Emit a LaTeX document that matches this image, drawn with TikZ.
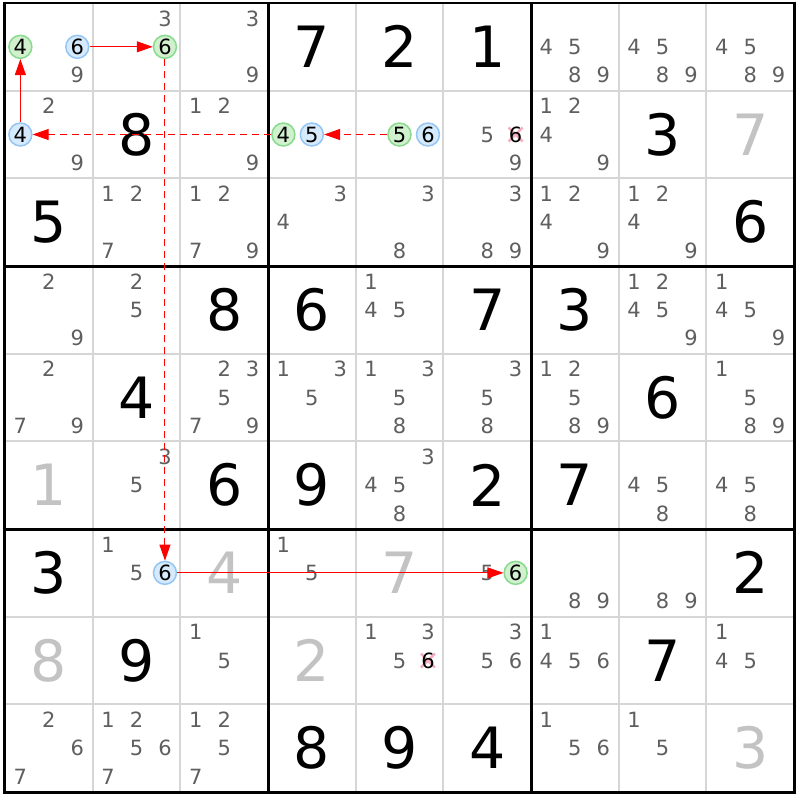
\documentclass[tikz,border=0pt]{standalone}
\usepackage{fontspec}
\setmainfont{DejaVu Sans}
\usepackage{xcolor}
\usetikzlibrary{arrows.meta}
\definecolor{gridGray}{HTML}{D6D6D6}
\definecolor{candGray}{HTML}{5F5F5F}
\definecolor{solvedGray}{HTML}{C3C3C3}
\definecolor{blueFill}{HTML}{D6EAFD}
\definecolor{blueDraw}{HTML}{95C5F3}
\definecolor{greenFill}{HTML}{D0F0CE}
\definecolor{greenDraw}{HTML}{88DA8E}
\definecolor{linkRed}{HTML}{FF0000}
\definecolor{crossPink}{HTML}{F39AAE}

\begin{document}
\begin{tikzpicture}[
  x=1pt, y=-1pt,
  given/.style={
    inner sep=0pt,
    text=black,
    font=\fontsize{57}{57}\selectfont
  },
  solved/.style={given, text=solvedGray},
  cand/.style={
    inner sep=0pt,
    text=candGray,
    font=\fontsize{21}{21}\selectfont
  },
  onblue/.style={
    circle,
    draw=blueDraw,
    fill=blueFill,
    line width=1.5pt,
    minimum size=23pt,
    inner sep=0pt,
    text=black,
    font=\fontsize{21}{21}\selectfont
  },
  ongreen/.style={onblue, draw=greenDraw, fill=greenFill},
  strong/.style={
    -{Triangle[length=16pt, width=11pt]},
    draw=linkRed,
    line width=1pt
  },
  weak/.style={strong, dash pattern=on 7pt off 5pt}
]
  % Page and grid
  \fill[white] (0,0) rectangle (800,800);
  \foreach \i in {1,2,4,5,7,8} {
    \draw[gridGray, line width=1.8pt] ({5+\i*87.78},2) -- ({5+\i*87.78},792);
    \draw[gridGray, line width=1.8pt] (5,{2+\i*87.78}) -- (795,{2+\i*87.78});
  }
  \foreach \i in {0,3,6,9} {
    \draw[black, line width=3pt] ({5+\i*87.78},0.5) -- ({5+\i*87.78},793.5);
    \draw[black, line width=3pt] (3.5,{2+\i*87.78}) -- (796.5,{2+\i*87.78});
  }

  % Given digits
  \foreach \r/\c/\d in {1/4/7, 1/5/2, 1/6/1, 2/2/8, 2/8/3, 3/1/5, 3/9/6,
      4/3/8, 4/4/6, 4/6/7, 4/7/3, 5/2/4, 5/8/6, 6/3/6, 6/4/9, 6/6/2, 6/7/7,
      7/1/3, 7/9/2, 8/2/9, 8/8/7, 9/4/8, 9/5/9, 9/6/4}
    \node[given] (g\r\c) at ({5+(\c-0.5)*87.78},{2+(\r-0.5)*87.78}) {\d};

  % Solved digits
  \foreach \r/\c/\d in {2/9/7, 6/1/1, 7/3/4, 7/5/7, 8/1/8, 8/4/2, 9/9/3}
    \node[solved] (g\r\c) at ({5+(\c-0.5)*87.78},{2+(\r-0.5)*87.78}) {\d};

  % Pencil marks
  \foreach \r/\c/\ds in {1/1/{9}, 1/2/{3}, 1/3/{3,9}, 1/7/{4,5,8,9}, 1/8/{4,5,8,9}, 1/9/{4,5,8,9},
      2/1/{2,9}, 2/3/{1,2,9}, 2/6/{5,9}, 2/7/{1,2,4,9},
      3/2/{1,2,7}, 3/3/{1,2,7,9}, 3/4/{3,4}, 3/5/{3,8}, 3/6/{3,8,9}, 3/7/{1,2,4,9}, 3/8/{1,2,4,9},
      4/1/{2,9}, 4/2/{2,5}, 4/5/{1,4,5}, 4/8/{1,2,4,5,9}, 4/9/{1,4,5,9},
      5/1/{2,7,9}, 5/3/{2,3,5,7,9}, 5/4/{1,3,5}, 5/5/{1,3,5,8}, 5/6/{3,5,8}, 5/7/{1,2,5,8,9}, 5/9/{1,5,8,9},
      6/2/{3,5}, 6/5/{3,4,5,8}, 6/8/{4,5,8}, 6/9/{4,5,8},
      7/2/{1,5}, 7/4/{1,5}, 7/6/{5}, 7/7/{8,9}, 7/8/{8,9},
      8/3/{1,5}, 8/5/{1,3,5}, 8/6/{3,5,6}, 8/7/{1,4,5,6}, 8/9/{1,4,5},
      9/1/{2,6,7}, 9/2/{1,2,5,6,7}, 9/3/{1,2,5,7}, 9/7/{1,5,6}, 9/8/{1,5}}
    \foreach \d in \ds {
      \pgfmathsetmacro\candx{5+(\c-0.5)*87.78+(mod(\d-1,3)-1)*28.5}
      \pgfmathsetmacro\candy{2+(\r-0.5)*87.78+(int((\d-1)/3)-1)*28.5}
      \node[cand] (n\r\c\d) at (\candx,\candy) {\d};
    }

  % Eliminated candidates
  \foreach \r/\c/\d in {2/6/6, 8/5/6} {
    \pgfmathsetmacro\candx{5+(\c-0.5)*87.78+(mod(\d-1,3)-1)*28.5}
    \pgfmathsetmacro\candy{2+(\r-0.5)*87.78+(int((\d-1)/3)-1)*28.5}
    \draw[crossPink, line width=2.5pt, opacity=0.8]
      (\candx-7,\candy-7) -- (\candx+7,\candy+7)
      (\candx-7,\candy+7) -- (\candx+7,\candy-7);
    \node[cand, text=black] (x\r\c\d) at (\candx,\candy) {\d};
  }

  % Chain candidates
  \foreach \r/\c/\d/\look in {1/1/6/onblue, 2/1/4/onblue, 2/4/5/onblue, 2/5/6/onblue, 7/2/6/onblue,
      1/1/4/ongreen, 1/2/6/ongreen, 2/4/4/ongreen, 2/5/5/ongreen, 7/6/6/ongreen} {
    \pgfmathsetmacro\candx{5+(\c-0.5)*87.78+(mod(\d-1,3)-1)*28.5}
    \pgfmathsetmacro\candy{2+(\r-0.5)*87.78+(int((\d-1)/3)-1)*28.5}
    \node[\look] (n\r\c\d) at (\candx,\candy) {\d};
  }

  % Links
  \draw[strong] (n116) -- (n126);
  \draw[strong] (n214) -- (n114);
  \draw[weak] (n255) -- (n245);
  \draw[weak] (n244) -- (n214);
  \draw[weak] (n126) -- (n726);
  \draw[strong, line width=0.8pt] (n726) -- (n766);
\end{tikzpicture}
\end{document}
